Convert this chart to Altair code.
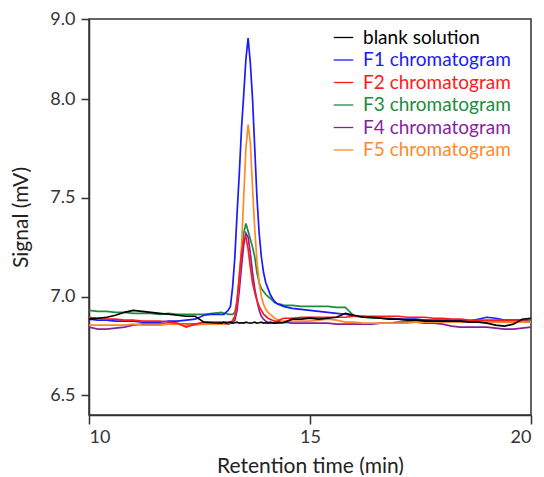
import altair as alt
import pandas as pd

# Retention time grid (min)
times = [10.0, 10.2, 10.4, 10.6, 10.8, 11.0, 11.2, 11.4, 11.6, 11.8, 12.0, 12.2, 12.4, 12.6, 12.8,
         13.0, 13.05, 13.1, 13.15, 13.2, 13.25, 13.3, 13.35, 13.4, 13.45, 13.5, 13.55, 13.6, 13.65,
         13.7, 13.75, 13.8, 13.85, 13.9, 13.95, 14.0, 14.05, 14.1, 14.15, 14.2, 14.25, 14.3, 14.35, 14.4,
         14.6, 14.8, 15.0, 15.2, 15.4, 15.6, 15.8, 16.0, 16.2, 16.4, 16.6, 16.8, 17.0, 17.2,
         17.4, 17.6, 17.8, 18.0, 18.2, 18.4, 18.6, 18.8, 19.0, 19.2, 19.4, 19.6, 19.8, 20.0]

blank = [6.885, 6.89, 6.895, 6.905, 6.92, 6.93, 6.925, 6.92, 6.915, 6.91, 6.905, 6.9, 6.9, 6.87, 6.867,
         6.865, 6.87, 6.865, 6.867, 6.87, 6.865, 6.867, 6.87, 6.865, 6.867, 6.865, 6.87, 6.867, 6.865,
         6.867, 6.87, 6.865, 6.867, 6.87, 6.865, 6.867, 6.865, 6.87, 6.867, 6.865, 6.867, 6.87, 6.867, 6.868,
         6.885, 6.885, 6.89, 6.885, 6.89, 6.895, 6.915, 6.905, 6.895, 6.895, 6.89, 6.885, 6.885, 6.88,
         6.88, 6.875, 6.875, 6.875, 6.875, 6.875, 6.87, 6.87, 6.865, 6.855, 6.85, 6.86, 6.885, 6.89]

f1 = [6.885, 6.88, 6.88, 6.875, 6.875, 6.875, 6.87, 6.87, 6.87, 6.875, 6.875, 6.88, 6.885, 6.905, 6.91,
      6.91, 6.91, 6.92, 6.93, 6.95, 7.05, 7.2, 7.42, 7.62, 7.85, 8.05, 8.5, 8.76, 8.45,
      8.0, 7.75, 7.5, 7.32, 7.2, 7.12, 7.07, 7.04, 7.01, 6.99, 6.975, 6.965, 6.96, 6.955, 6.95,
      6.94, 6.935, 6.93, 6.925, 6.92, 6.915, 6.91, 6.9, 6.9, 6.895, 6.89, 6.89, 6.885, 6.885,
      6.885, 6.88, 6.88, 6.88, 6.88, 6.88, 6.875, 6.885, 6.895, 6.89, 6.88, 6.88, 6.88, 6.885]

f2 = [6.895, 6.89, 6.885, 6.885, 6.88, 6.88, 6.875, 6.875, 6.875, 6.87, 6.865, 6.845, 6.86, 6.87, 6.87,
      6.87, 6.87, 6.87, 6.87, 6.87, 6.875, 6.9, 6.97, 7.1, 7.22, 7.29, 7.3, 7.24, 7.15,
      7.07, 7.02, 6.98, 6.95, 6.93, 6.91, 6.9, 6.89, 6.885, 6.88, 6.875, 6.875, 6.88, 6.885, 6.89,
      6.89, 6.895, 6.895, 6.895, 6.895, 6.895, 6.895, 6.9, 6.9, 6.9, 6.9, 6.9, 6.9, 6.895,
      6.895, 6.895, 6.89, 6.89, 6.885, 6.885, 6.88, 6.88, 6.88, 6.88, 6.88, 6.88, 6.88, 6.885]

f3 = [6.93, 6.925, 6.925, 6.92, 6.92, 6.915, 6.915, 6.915, 6.91, 6.915, 6.91, 6.91, 6.91, 6.91, 6.915,
      6.92, 6.915, 6.915, 6.91, 6.91, 6.91, 6.92, 6.98, 7.08, 7.2, 7.32, 7.37, 7.33, 7.29,
      7.25, 7.2, 7.12, 7.07, 7.04, 7.025, 7.01, 7.0, 6.99, 6.98, 6.97, 6.965, 6.96, 6.96, 6.955,
      6.955, 6.95, 6.95, 6.95, 6.95, 6.945, 6.945, 6.9, 6.895, 6.89, 6.89, 6.885, 6.885, 6.88,
      6.88, 6.88, 6.875, 6.875, 6.875, 6.875, 6.875, 6.875, 6.875, 6.875, 6.875, 6.875, 6.875, 6.875]

f4 = [6.845, 6.835, 6.835, 6.84, 6.845, 6.855, 6.86, 6.86, 6.86, 6.86, 6.86, 6.86, 6.86, 6.86, 6.86,
      6.86, 6.86, 6.86, 6.86, 6.865, 6.87, 6.88, 6.93, 7.03, 7.15, 7.26, 7.32, 7.3, 7.22,
      7.12, 7.04, 6.98, 6.93, 6.9, 6.885, 6.875, 6.87, 6.865, 6.865, 6.865, 6.865, 6.865, 6.87, 6.87,
      6.865, 6.865, 6.865, 6.865, 6.865, 6.86, 6.86, 6.86, 6.86, 6.86, 6.865, 6.865, 6.87, 6.87,
      6.87, 6.865, 6.865, 6.86, 6.85, 6.845, 6.845, 6.845, 6.845, 6.84, 6.835, 6.835, 6.84, 6.845]

f5 = [6.855, 6.855, 6.855, 6.855, 6.855, 6.86, 6.855, 6.855, 6.855, 6.86, 6.86, 6.855, 6.855, 6.86, 6.86,
      6.86, 6.86, 6.86, 6.865, 6.87, 6.88, 6.9, 6.98, 7.1, 7.25, 7.5, 7.75, 7.87, 7.78,
      7.55, 7.34, 7.18, 7.07, 7.0, 6.96, 6.935, 6.92, 6.91, 6.9, 6.89, 6.885, 6.88, 6.875, 6.875,
      6.875, 6.875, 6.875, 6.88, 6.885, 6.88, 6.87, 6.87, 6.865, 6.865, 6.865, 6.865, 6.865, 6.865,
      6.87, 6.87, 6.87, 6.87, 6.87, 6.87, 6.87, 6.87, 6.87, 6.87, 6.87, 6.87, 6.87, 6.87]

series_names = ["blank solution", "F1 chromatogram", "F2 chromatogram",
                "F3 chromatogram", "F4 chromatogram", "F5 chromatogram"]
series_colors = ["#000000", "#1a1aff", "#ff1a1a", "#1e8c3c", "#8a1f9e", "#ff8a2a"]
series_values = [blank, f1, f2, f3, f4, f5]

y_ticks = [6.5, 7.0, 7.5, 8.0, 9.0]
x_ticks = [10, 15, 20]

rows = []
for name, vals in zip(series_names, series_values):
    for t, v in zip(times, vals):
        rows.append({"time": t, "signal": v, "series": name})
df = pd.DataFrame(rows)

label_expr = " : ".join(
    [f"datum.label == '{n}' ? '{c}'" for n, c in zip(series_names, series_colors)]
) + " : '#000000'"

x_enc = alt.X("time:Q", title="Retention time (min)",
              scale=alt.Scale(domain=[10, 20], nice=False, zero=False),
              axis=alt.Axis(values=x_ticks, format="d", grid=False, tickSize=9,
                            labelPadding=4, titlePadding=9))
y_enc = alt.Y("signal:Q", title="Signal (mV)",
              scale=alt.Scale(domain=[6.4, 8.0, 9.0], range=[396, 80, 0], zero=False, nice=False),
              axis=alt.Axis(values=y_ticks, format=".1f", grid=False, tickSize=8,
                            labelPadding=6, titlePadding=18))

color_enc_legend = alt.Color(
    "series:N",
    scale=alt.Scale(domain=series_names, range=series_colors),
    legend=alt.Legend(title=None, orient="none", legendX=244, legendY=8,
                      symbolType="stroke", symbolSize=380, symbolStrokeWidth=1.3,
                      labelFontSize=19, labelFont="Lato", labelOffset=9, rowPadding=1.5,
                      labelColor={"expr": label_expr}, labelLimit=300),
)
color_enc = alt.Color("series:N", scale=alt.Scale(domain=series_names, range=series_colors))

draw_order = ["F3 chromatogram", "F4 chromatogram", "F1 chromatogram",
              "F5 chromatogram", "F2 chromatogram", "blank solution"]

layers = []
for i, name in enumerate(draw_order):
    layers.append(
        alt.Chart(df).transform_filter(alt.datum.series == name)
        .mark_line(strokeWidth=1.7, clip=True)
        .encode(x=x_enc, y=y_enc, color=color_enc_legend if i == 0 else color_enc)
    )

chart = alt.layer(*layers).properties(
    width=442, height=396,
    autosize=alt.AutoSizeParams(type="none"),
    padding={"left": 81, "top": 11, "right": 5, "bottom": 60},
).configure_view(
    stroke="#333333", strokeWidth=1.5
).configure_axis(
    labelFont="Lato", titleFont="Lato", labelFontSize=18, titleFontSize=21,
    titleFontWeight="normal", labelColor="#333333", titleColor="#222222",
    domainColor="#333333", tickColor="#333333", domainWidth=1.5, tickWidth=1.5,
)

chart.save("out.html", embed_options={"renderer": "svg", "actions": False})
